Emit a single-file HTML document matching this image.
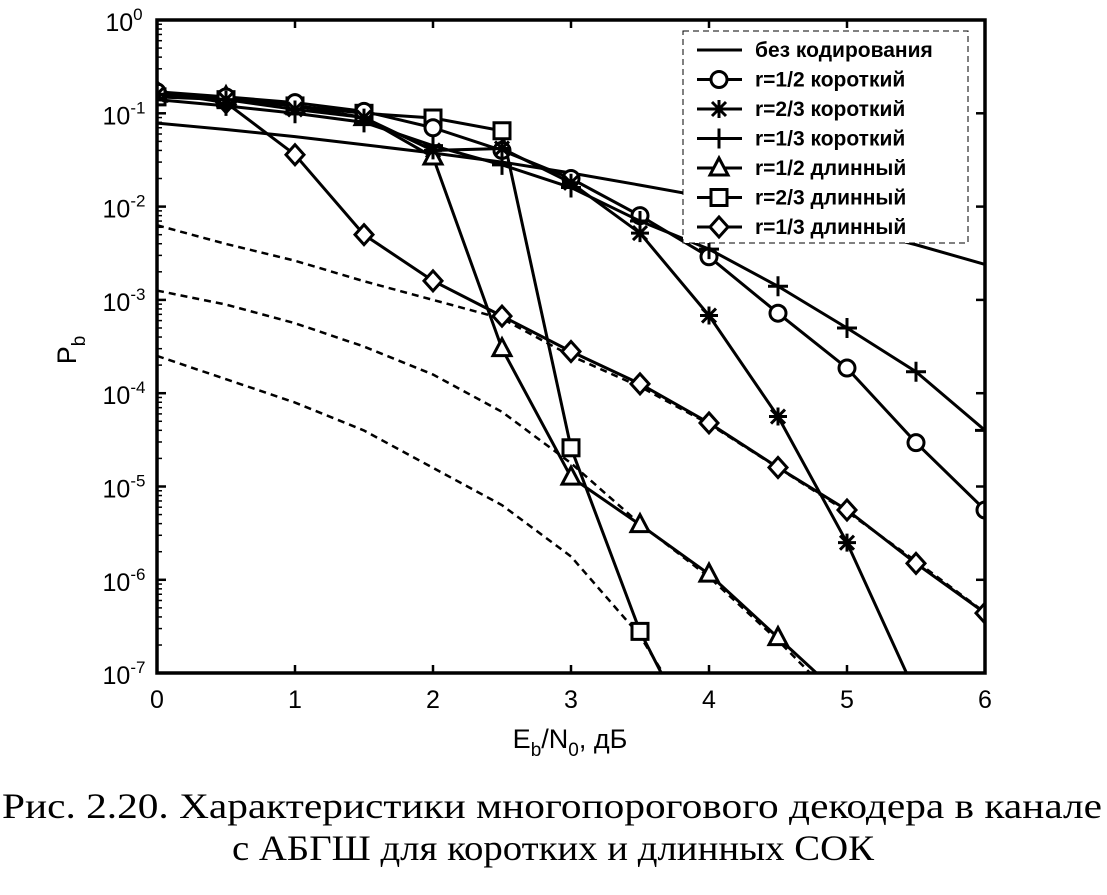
<!DOCTYPE html>
<html><head><meta charset="utf-8"><style>
body{margin:0;background:#fff;width:1107px;height:890px;overflow:hidden;font-family:"Liberation Sans",sans-serif}
</style></head><body>
<svg width="1107" height="890" xmlns="http://www.w3.org/2000/svg" id="chart">
<defs><clipPath id="clip"><rect x="157" y="20" width="828" height="653"/></clipPath></defs>
<text x="2" y="818" font-family="Liberation Serif, serif" font-size="36" textLength="1100" lengthAdjust="spacingAndGlyphs">Рис. 2.20. Характеристики многопорогового декодера в канале</text>
<text x="232" y="860" font-family="Liberation Serif, serif" font-size="36" textLength="642" lengthAdjust="spacingAndGlyphs">с АБГШ для коротких и длинных СОК</text>
</svg>
<script>
const xTicks=[0,1,2,3,4,5,6];
const yExps=[0,-1,-2,-3,-4,-5,-6,-7];
const xs=[0,0.5,1,1.5,2,2.5,3,3.5,4,4.5,5,5.5,6];
const uncoded=[0.0786,0.067,0.0563,0.046,0.0375,0.03,0.0229,0.017,0.0125,0.0088,0.006,0.0039,0.0024];
const r12short=[0.17,0.15,0.13,0.105,0.07,0.04,0.02,0.008,0.0029,0.00072,0.000186,0.0000295,0.0000056];
const r23short=[0.16,0.14,0.11,0.09,0.04,0.042,0.018,0.0052,0.00068,0.0000562,0.0000025,6e-8];
const r13short=[0.14,0.12,0.1,0.08,0.045,0.028,0.016,0.007,0.0035,0.0014,0.0005,0.00017,0.00004];
const r12long=[0.16,0.15,0.12,0.09,0.034,0.0003,0.0000126,0.0000039,0.00000115,0.00000024,5e-8];
const r23long=[0.15,0.14,0.12,0.1,0.089,0.065,0.000026,0.00000028,1e-8];
const r13long=[0.17,0.13,0.036,0.005,0.0016,0.00067,0.00028,0.000126,0.000048,0.000016,0.0000056,0.0000015,0.00000044];
const bound1=[-2.2,-2.4,-2.58,-2.8,-3.0,-3.2,-3.6,-3.93,-4.33,-4.8,-5.27,-5.8,-6.35];
const bound2=[-2.9,-3.05,-3.25,-3.5,-3.8,-4.2,-4.75,-5.4,-5.97,-6.65,-7.4];
const bound3=[-3.6,-3.85,-4.1,-4.4,-4.8,-5.2,-5.75,-6.6,-7.8];
const legendLabels=["без кодирования","r=1/2 короткий","r=2/3 короткий","r=1/3 короткий","r=1/2 длинный","r=2/3 длинный","r=1/3 длинный"];
const NS="http://www.w3.org/2000/svg";
const svg=document.getElementById('chart');
const X=v=>157+v*138;
const YL=l=>20-l*93.3;
const Y=p=>YL(Math.log10(p));
function mk(t,a,parent){const e=document.createElementNS(NS,t);for(const k in a)e.setAttribute(k,a[k]);(parent||svg).appendChild(e);return e;}
const plot=mk('g',{'clip-path':'url(#clip)'});


const frame=mk('rect',{x:157,y:20,width:828,height:653,fill:'none',stroke:'#000','stroke-width':3.5});


xTicks.forEach(t=>{
 mk('line',{x1:X(t),x2:X(t),y1:673,y2:665,stroke:'#000','stroke-width':2.5});
 mk('line',{x1:X(t),x2:X(t),y1:20,y2:28,stroke:'#000','stroke-width':2.5});
 const tx=mk('text',{x:X(t),y:708,'font-size':25,'text-anchor':'middle'});tx.textContent=t;
 
 
});
yExps.forEach(e=>{
 const y=YL(e);
 mk('line',{x1:157,x2:166,y1:y,y2:y,stroke:'#000','stroke-width':2.5});
 mk('line',{x1:985,x2:976,y1:y,y2:y,stroke:'#000','stroke-width':2.5});
 const tx=mk('text',{x:124,y:y+11,'font-size':25,'text-anchor':'middle'});
 
 
 tx.innerHTML='10<tspan dy="-11" font-size="17">'+e+'</tspan>';
 if(e>-7)for(let m=2;m<10;m++){const yy=YL(e-1+Math.log10(m));mk('line',{x1:157,x2:162,y1:yy,y2:yy,stroke:'#000','stroke-width':1.5});}
});
const xt=mk('text',{x:570,y:748,'font-size':27,'text-anchor':'middle'});


xt.innerHTML='E<tspan dy="8" font-size="19">b</tspan><tspan dy="-8">/N</tspan><tspan dy="8" font-size="19">0</tspan><tspan dy="-8">, дБ</tspan>';
const yt=mk('text',{x:0,y:0,'font-size':27,'text-anchor':'middle',transform:'translate(76,350) rotate(-90)'});


yt.innerHTML='P<tspan dy="9" font-size="19">b</tspan>';
function line(vals,isLog,dash,name){
 const pts=vals.map((v,i)=>X(xs[i])+','+(isLog?YL(v):Y(v))).join(' ');
 const p=mk('polyline',{points:pts,fill:'none',stroke:'#000','stroke-width':dash?2.5:3,'stroke-dasharray':dash?'7,5':'none'},plot);
 
 
}
function marker(type,cx,cy,g){
 const s=8,w=3;
 if(type==='o')mk('circle',{cx,cy,r:s,fill:'#fff',stroke:'#000','stroke-width':w},g);
 else if(type==='s')mk('rect',{x:cx-s,y:cy-s,width:2*s,height:2*s,fill:'#fff',stroke:'#000','stroke-width':w},g);
 else if(type==='d')mk('polygon',{points:`${cx},${cy-10} ${cx+9},${cy} ${cx},${cy+10} ${cx-9},${cy}`,fill:'#fff',stroke:'#000','stroke-width':w},g);
 else if(type==='t')mk('polygon',{points:`${cx},${cy-10} ${cx+9},${cy+7} ${cx-9},${cy+7}`,fill:'#fff',stroke:'#000','stroke-width':w},g);
 else if(type==='+'){mk('path',{d:`M${cx-10},${cy}H${cx+10}M${cx},${cy-10}V${cy+10}`,stroke:'#000','stroke-width':w},g);}
 else if(type==='*'){mk('path',{d:`M${cx-9},${cy}H${cx+9}M${cx},${cy-9}V${cy+9}M${cx-7},${cy-7}L${cx+7},${cy+7}M${cx-7},${cy+7}L${cx+7},${cy-7}`,stroke:'#000','stroke-width':w},g);}
}
function series(vals,type,name){
 line(vals,false,false,name+'-line');
 const g=mk('g',{},plot);
 
 
 vals.forEach((v,i)=>{if(v>=1e-7)marker(type,X(xs[i]),Y(v),g);});
}
line(bound1,true,true,'bound-1-dashed');
line(bound2,true,true,'bound-2-dashed');
line(bound3,true,true,'bound-3-dashed');
line(uncoded,false,false,'uncoded-line');
series(r13long,'d','r13-long');
series(r12long,'t','r12-long');
series(r23long,'s','r23-long');
series(r12short,'o','r12-short');
series(r23short,'*','r23-short');
series(r13short,'+','r13-short');
const lg=mk('g',{});


mk('rect',{x:683,y:31,width:285,height:212,fill:'#fff',stroke:'#000','stroke-width':1,'stroke-dasharray':'6,4'},lg);
const types=['-','o','*','+','t','s','d'];
legendLabels.forEach((lab,i)=>{
 const y=50+i*29.5;
 const e=mk('g',{},lg);
 
 
 mk('line',{x1:697,x2:742,y1:y,y2:y,stroke:'#000','stroke-width':3},e);
 if(types[i]!=='-')marker(types[i],719,y,e);
 const t=mk('text',{x:755,y:y+7,'font-size':21,'font-weight':'bold'},e);t.textContent=lab;
});
</script>
</body></html>
